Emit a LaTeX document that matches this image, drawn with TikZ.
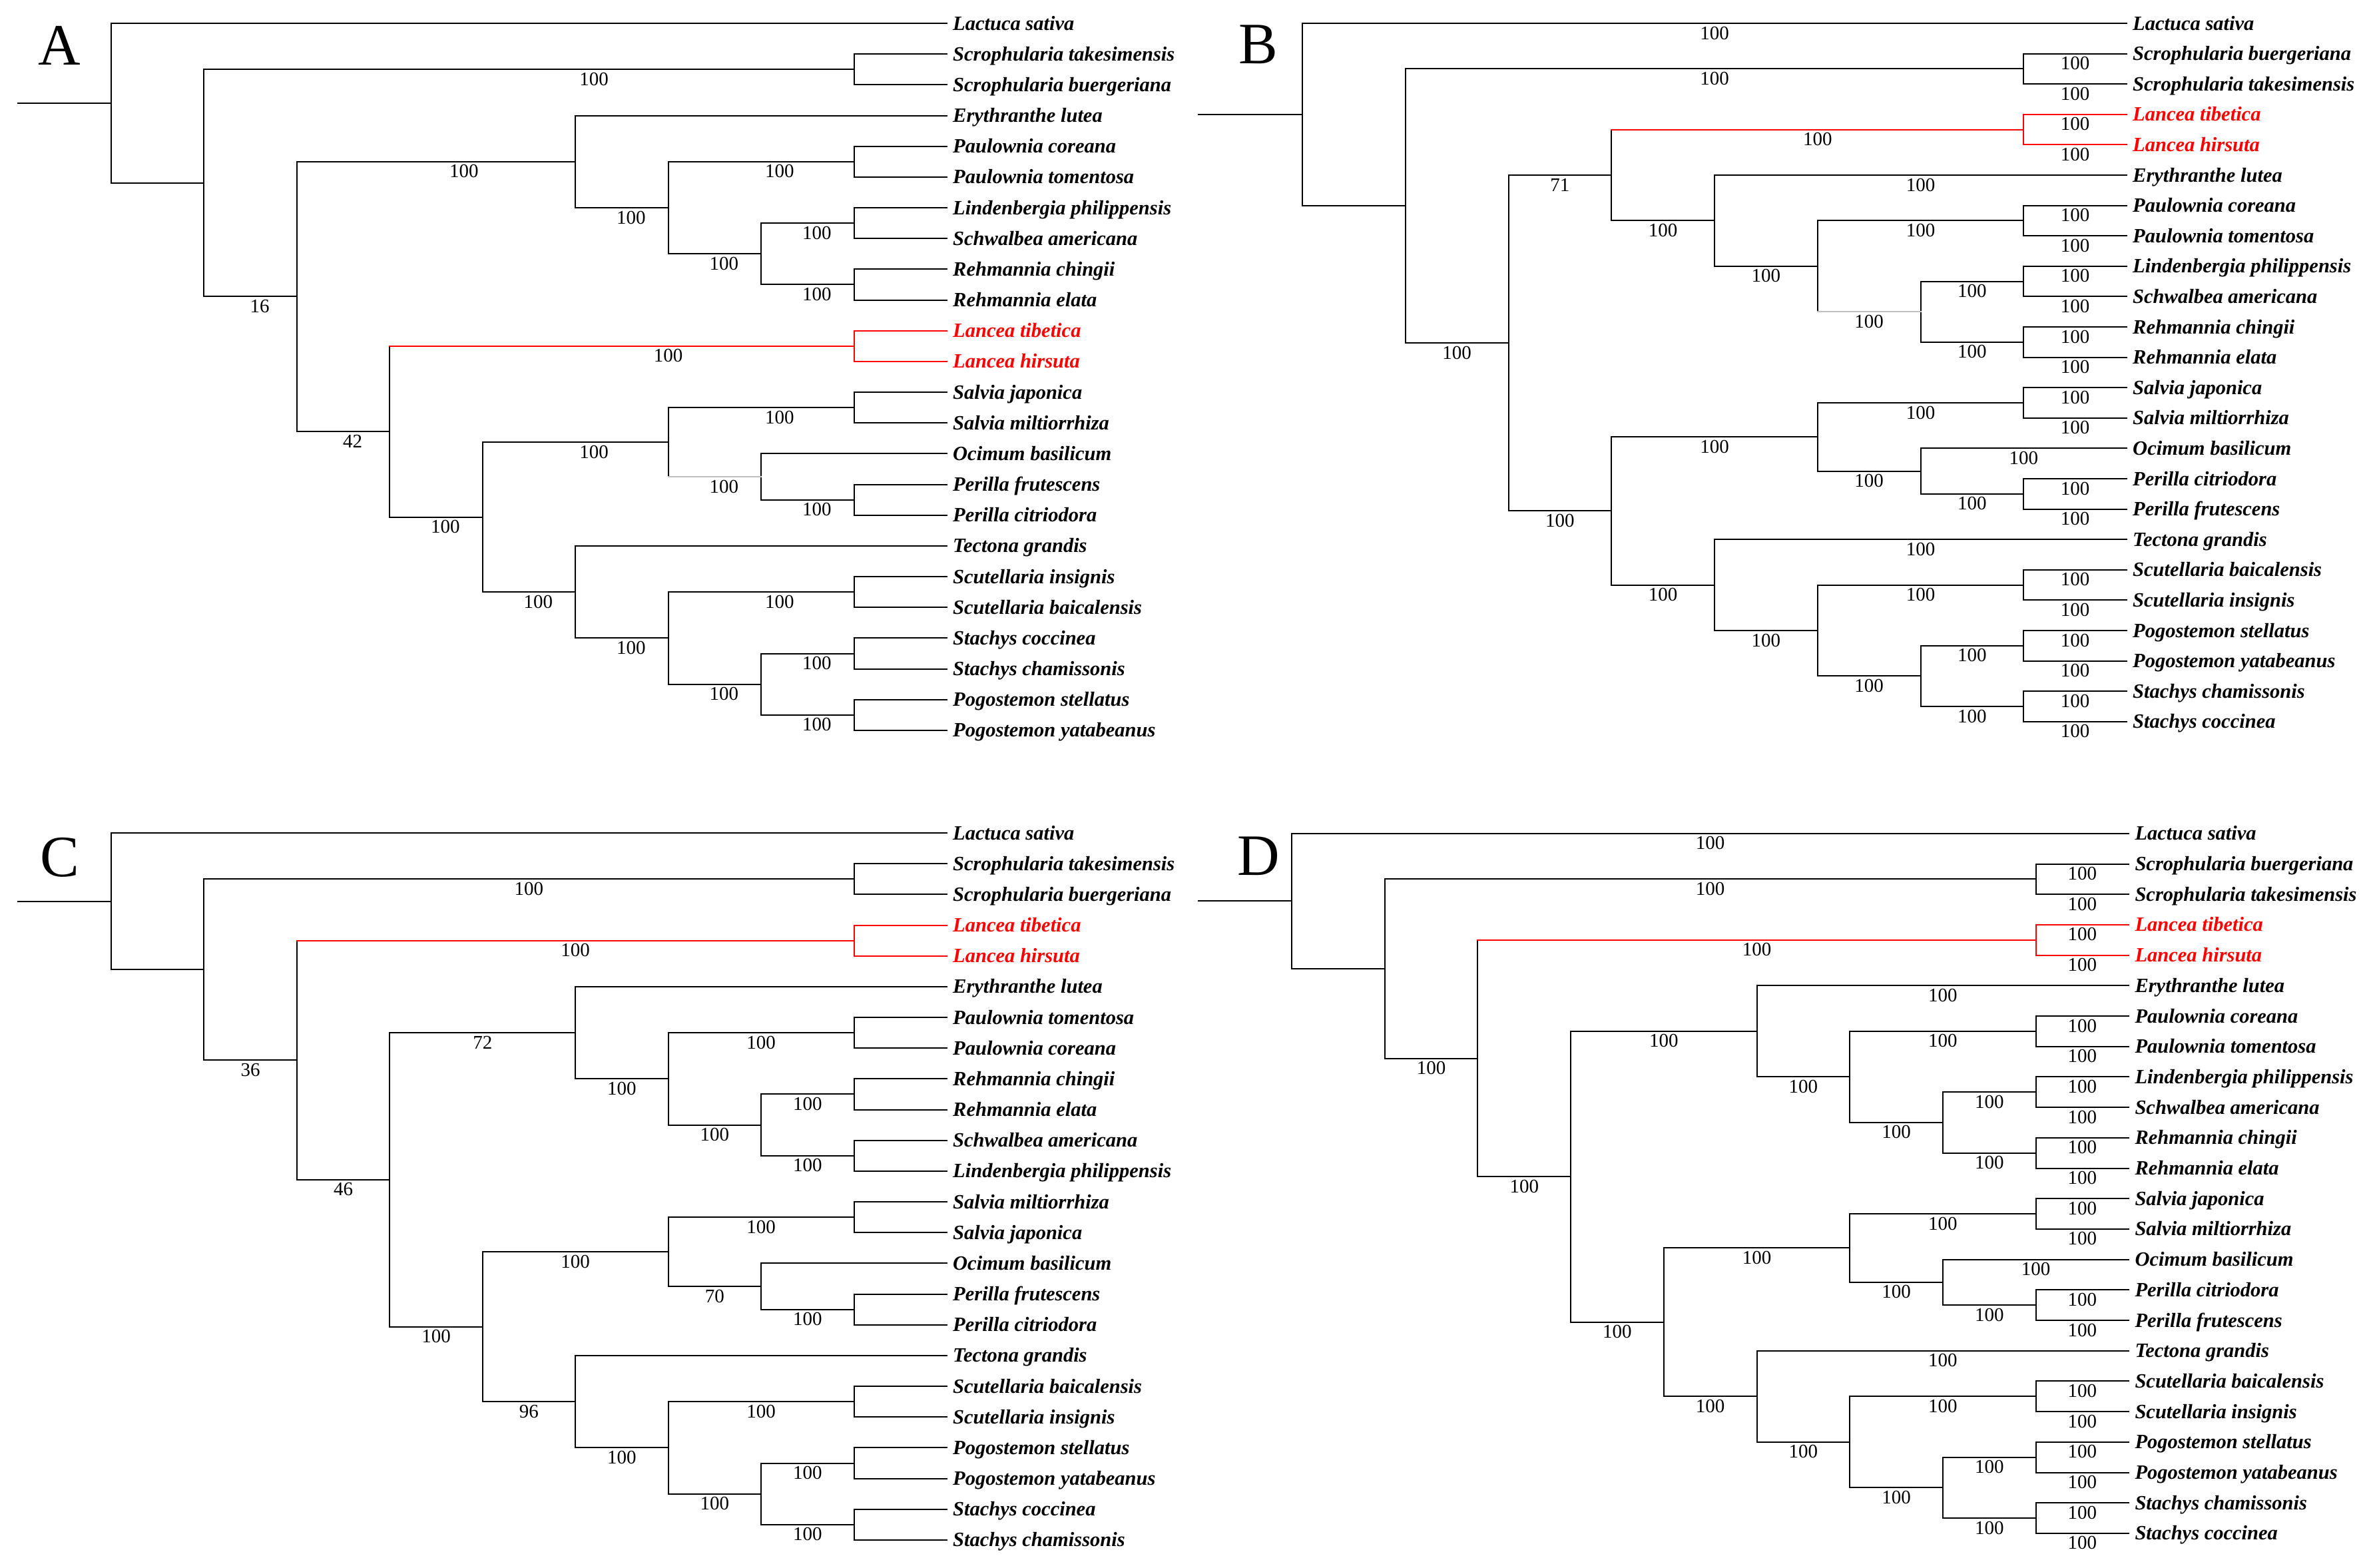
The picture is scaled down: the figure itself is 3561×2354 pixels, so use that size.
\documentclass[tikz,border=0pt]{standalone}
\usepackage{fontspec}
\setmainfont{Liberation Serif}
\usetikzlibrary{calc}
\definecolor{lred}{RGB}{255,0,0}
\newcommand\leaf[3][]{\coordinate (\tn#2) at (\lx,{\ry+#2*\rs}); \node[sp,#1] (\tn#2t) at (\tn#2) {#3};}
\newcommand\inode[7][]{%
 \begin{scope}[vs/.style={},sa/.style={},sb/.style={},#1]
 \path let \p1=(#4), \p2=(#5) in ({(\xo+#3*\xs)*1pt},{0.5*\y1+0.5*\y2}) coordinate (#2);
 \draw[br,vs] (#2 |- #4) -- (#2 |- #5);
 \draw[br,sa] (#2 |- #4) -- (#4) node[bs,pos=\lf]{#6};
 \draw[br,sb] (#2 |- #5) -- (#5) node[bs,pos=\lf]{#7};
 \end{scope}}
\begin{document}
\begin{tikzpicture}[x=1pt,y=-1pt,
 br/.style={line width=2pt,draw=black,line cap=rect},
 rd/.style={draw=lred},
 gy/.style={draw=black!25},
 bs/.style={font=\fontsize{29}{29}\selectfont,anchor=base,yshift=-24pt,inner sep=0pt,text=black},
 sp/.style={font=\fontsize{30.5}{30.5}\selectfont\bfseries\itshape,anchor=base west,inner sep=0pt,xshift=9pt,yshift=-10pt},
 pl/.style={font=\fontsize{88}{88}\selectfont,anchor=base west,inner sep=0pt}]
\useasboundingbox (0,0) rectangle (3561,2354);
\fill[white] (0,0) rectangle (3561,2354);

%%%%%%%%%%%%%%%% Tree A
\def\tn{A}\def\lx{1422}\def\ry{35}\def\rs{46.17}\def\xo{167}\def\xs{139.44}\def\lf{0.6}
\node[pl] (LA) at (57,97) {A};
\leaf{0}{Lactuca sativa}
\leaf{1}{Scrophularia takesimensis}
\leaf{2}{Scrophularia buergeriana}
\leaf{3}{Erythranthe lutea}
\leaf{4}{Paulownia coreana}
\leaf{5}{Paulownia tomentosa}
\leaf{6}{Lindenbergia philippensis}
\leaf{7}{Schwalbea americana}
\leaf{8}{Rehmannia chingii}
\leaf{9}{Rehmannia elata}
\leaf[text=lred]{10}{Lancea tibetica}
\leaf[text=lred]{11}{Lancea hirsuta}
\leaf{12}{Salvia japonica}
\leaf{13}{Salvia miltiorrhiza}
\leaf{14}{Ocimum basilicum}
\leaf{15}{Perilla frutescens}
\leaf{16}{Perilla citriodora}
\leaf{17}{Tectona grandis}
\leaf{18}{Scutellaria insignis}
\leaf{19}{Scutellaria baicalensis}
\leaf{20}{Stachys coccinea}
\leaf{21}{Stachys chamissonis}
\leaf{22}{Pogostemon stellatus}
\leaf{23}{Pogostemon yatabeanus}
\inode{Asc}{8}{A1}{A2}{}{}
\inode{Apa}{8}{A4}{A5}{}{}
\inode{Als}{8}{A6}{A7}{}{}
\inode{Are}{8}{A8}{A9}{}{}
\inode[vs/.style=rd,sa/.style=rd,sb/.style=rd]{Ala}{8}{A10}{A11}{}{}
\inode{Asa}{8}{A12}{A13}{}{}
\inode{Ape}{8}{A15}{A16}{}{}
\inode{Asu}{8}{A18}{A19}{}{}
\inode{Ast}{8}{A20}{A21}{}{}
\inode{Apo}{8}{A22}{A23}{}{}
\inode{An5}{7}{Als}{Are}{100}{100}
\inode{An4}{6}{Apa}{An5}{100}{100}
\inode{An3a}{5}{A3}{An4}{}{100}
\inode{An9}{7}{A14}{Ape}{}{100}
\inode[sb/.style=gy]{An7}{6}{Asa}{An9}{100}{100}
\inode{An11}{7}{Ast}{Apo}{100}{100}
\inode{An10}{6}{Asu}{An11}{100}{100}
\inode{An8}{5}{A17}{An10}{}{100}
\inode{An6}{4}{An7}{An8}{100}{100}
\inode[sa/.style=rd]{An3b}{3}{Ala}{An6}{100}{100}
\inode{An2}{2}{An3a}{An3b}{100}{42}
\inode{An1}{1}{Asc}{An2}{100}{16}
\inode{Ar}{0}{A0}{An1}{}{}
\coordinate (As) at (27,0);
\draw[br] (As |- Ar) -- (Ar);

%%%%%%%%%%%%%%%% Tree B
\def\tn{B}\def\lx{3194}\def\ry{35}\def\rs{45.6}\def\xo{1956}\def\xs{154.75}\def\lf{0.5}
\node[pl] (LB) at (1860,95) {B};
\leaf{0}{Lactuca sativa}
\leaf{1}{Scrophularia buergeriana}
\leaf{2}{Scrophularia takesimensis}
\leaf[text=lred]{3}{Lancea tibetica}
\leaf[text=lred]{4}{Lancea hirsuta}
\leaf{5}{Erythranthe lutea}
\leaf{6}{Paulownia coreana}
\leaf{7}{Paulownia tomentosa}
\leaf{8}{Lindenbergia philippensis}
\leaf{9}{Schwalbea americana}
\leaf{10}{Rehmannia chingii}
\leaf{11}{Rehmannia elata}
\leaf{12}{Salvia japonica}
\leaf{13}{Salvia miltiorrhiza}
\leaf{14}{Ocimum basilicum}
\leaf{15}{Perilla citriodora}
\leaf{16}{Perilla frutescens}
\leaf{17}{Tectona grandis}
\leaf{18}{Scutellaria baicalensis}
\leaf{19}{Scutellaria insignis}
\leaf{20}{Pogostemon stellatus}
\leaf{21}{Pogostemon yatabeanus}
\leaf{22}{Stachys chamissonis}
\leaf{23}{Stachys coccinea}
\inode{Bsc}{7}{B1}{B2}{100}{100}
\inode[vs/.style=rd,sa/.style=rd,sb/.style=rd]{Bla}{7}{B3}{B4}{100}{100}
\inode{Bpa}{7}{B6}{B7}{100}{100}
\inode{Bls}{7}{B8}{B9}{100}{100}
\inode{Bre}{7}{B10}{B11}{100}{100}
\inode{Bsa}{7}{B12}{B13}{100}{100}
\inode{Bpe}{7}{B15}{B16}{100}{100}
\inode{Bsu}{7}{B18}{B19}{100}{100}
\inode{Bpo}{7}{B20}{B21}{100}{100}
\inode{Bst}{7}{B22}{B23}{100}{100}
\inode{Bn6}{6}{Bls}{Bre}{100}{100}
\inode[sb/.style=gy]{Bn5}{5}{Bpa}{Bn6}{100}{100}
\inode{Bn4}{4}{B5}{Bn5}{100}{100}
\inode[sa/.style=rd]{Bn3}{3}{Bla}{Bn4}{100}{100}
\inode{Bn9}{6}{B14}{Bpe}{100}{100}
\inode{Bn7}{5}{Bsa}{Bn9}{100}{100}
\inode{Bn11}{6}{Bpo}{Bst}{100}{100}
\inode{Bn10}{5}{Bsu}{Bn11}{100}{100}
\inode{Bn8}{4}{B17}{Bn10}{100}{100}
\inode{Bn3b}{3}{Bn7}{Bn8}{100}{100}
\inode{Bn2}{2}{Bn3}{Bn3b}{71}{100}
\inode{Bn1}{1}{Bsc}{Bn2}{100}{100}
\inode{Br}{0}{B0}{Bn1}{100}{}
\coordinate (Bs) at (1800,0);
\draw[br] (Bs |- Br) -- (Br);

%%%%%%%%%%%%%%%% Tree C
\def\tn{C}\def\lx{1422}\def\ry{1251}\def\rs{46.17}\def\xo{167}\def\xs{139.44}\def\lf{0.5}
\node[pl] (LC) at (60,1316) {C};
\leaf{0}{Lactuca sativa}
\leaf{1}{Scrophularia takesimensis}
\leaf{2}{Scrophularia buergeriana}
\leaf[text=lred]{3}{Lancea tibetica}
\leaf[text=lred]{4}{Lancea hirsuta}
\leaf{5}{Erythranthe lutea}
\leaf{6}{Paulownia tomentosa}
\leaf{7}{Paulownia coreana}
\leaf{8}{Rehmannia chingii}
\leaf{9}{Rehmannia elata}
\leaf{10}{Schwalbea americana}
\leaf{11}{Lindenbergia philippensis}
\leaf{12}{Salvia miltiorrhiza}
\leaf{13}{Salvia japonica}
\leaf{14}{Ocimum basilicum}
\leaf{15}{Perilla frutescens}
\leaf{16}{Perilla citriodora}
\leaf{17}{Tectona grandis}
\leaf{18}{Scutellaria baicalensis}
\leaf{19}{Scutellaria insignis}
\leaf{20}{Pogostemon stellatus}
\leaf{21}{Pogostemon yatabeanus}
\leaf{22}{Stachys coccinea}
\leaf{23}{Stachys chamissonis}
\inode{Csc}{8}{C1}{C2}{}{}
\inode[vs/.style=rd,sa/.style=rd,sb/.style=rd]{Cla}{8}{C3}{C4}{}{}
\inode{Cpa}{8}{C6}{C7}{}{}
\inode{Cre}{8}{C8}{C9}{}{}
\inode{Csl}{8}{C10}{C11}{}{}
\inode{Csa}{8}{C12}{C13}{}{}
\inode{Cpe}{8}{C15}{C16}{}{}
\inode{Csu}{8}{C18}{C19}{}{}
\inode{Cpo}{8}{C20}{C21}{}{}
\inode{Cst}{8}{C22}{C23}{}{}
\inode{Cn7}{7}{Cre}{Csl}{100}{100}
\inode{Cn6}{6}{Cpa}{Cn7}{100}{100}
\inode{Cn4}{5}{C5}{Cn6}{}{100}
\inode{Cn10}{7}{C14}{Cpe}{}{100}
\inode{Cn8}{6}{Csa}{Cn10}{100}{70}
\inode{Cn12}{7}{Cpo}{Cst}{100}{100}
\inode{Cn11}{6}{Csu}{Cn12}{100}{100}
\inode{Cn9}{5}{C17}{Cn11}{}{100}
\inode{Cn5}{4}{Cn8}{Cn9}{100}{96}
\inode{Cn3}{3}{Cn4}{Cn5}{72}{100}
\inode[sa/.style=rd]{Cn2}{2}{Cla}{Cn3}{100}{46}
\inode{Cn1}{1}{Csc}{Cn2}{100}{36}
\inode{Cr}{0}{C0}{Cn1}{}{}
\coordinate (Cs) at (27,0);
\draw[br] (Cs |- Cr) -- (Cr);

%%%%%%%%%%%%%%%% Tree D
\def\tn{D}\def\lx{3197.3}\def\ry{1251.8}\def\rs{45.7}\def\xo{1940}\def\xs{139.7}\def\lf{0.5}
\node[pl] (LD) at (1858,1314) {D};
\leaf{0}{Lactuca sativa}
\leaf{1}{Scrophularia buergeriana}
\leaf{2}{Scrophularia takesimensis}
\leaf[text=lred]{3}{Lancea tibetica}
\leaf[text=lred]{4}{Lancea hirsuta}
\leaf{5}{Erythranthe lutea}
\leaf{6}{Paulownia coreana}
\leaf{7}{Paulownia tomentosa}
\leaf{8}{Lindenbergia philippensis}
\leaf{9}{Schwalbea americana}
\leaf{10}{Rehmannia chingii}
\leaf{11}{Rehmannia elata}
\leaf{12}{Salvia japonica}
\leaf{13}{Salvia miltiorrhiza}
\leaf{14}{Ocimum basilicum}
\leaf{15}{Perilla citriodora}
\leaf{16}{Perilla frutescens}
\leaf{17}{Tectona grandis}
\leaf{18}{Scutellaria baicalensis}
\leaf{19}{Scutellaria insignis}
\leaf{20}{Pogostemon stellatus}
\leaf{21}{Pogostemon yatabeanus}
\leaf{22}{Stachys chamissonis}
\leaf{23}{Stachys coccinea}
\inode{Dsc}{8}{D1}{D2}{100}{100}
\inode[vs/.style=rd,sa/.style=rd,sb/.style=rd]{Dla}{8}{D3}{D4}{100}{100}
\inode{Dpa}{8}{D6}{D7}{100}{100}
\inode{Dls}{8}{D8}{D9}{100}{100}
\inode{Dre}{8}{D10}{D11}{100}{100}
\inode{Dsa}{8}{D12}{D13}{100}{100}
\inode{Dpe}{8}{D15}{D16}{100}{100}
\inode{Dsu}{8}{D18}{D19}{100}{100}
\inode{Dpo}{8}{D20}{D21}{100}{100}
\inode{Dst}{8}{D22}{D23}{100}{100}
\inode{Dn7}{7}{Dls}{Dre}{100}{100}
\inode{Dn6}{6}{Dpa}{Dn7}{100}{100}
\inode{Dn4}{5}{D5}{Dn6}{100}{100}
\inode{Dn10}{7}{D14}{Dpe}{100}{100}
\inode{Dn8}{6}{Dsa}{Dn10}{100}{100}
\inode{Dn12}{7}{Dpo}{Dst}{100}{100}
\inode{Dn11}{6}{Dsu}{Dn12}{100}{100}
\inode{Dn9}{5}{D17}{Dn11}{100}{100}
\inode{Dn5}{4}{Dn8}{Dn9}{100}{100}
\inode{Dn3}{3}{Dn4}{Dn5}{100}{100}
\inode[sa/.style=rd]{Dn2}{2}{Dla}{Dn3}{100}{100}
\inode{Dn1}{1}{Dsc}{Dn2}{100}{100}
\inode{Dr}{0}{D0}{Dn1}{100}{}
\coordinate (Ds) at (1800,0);
\draw[br] (Ds |- Dr) -- (Dr);
\end{tikzpicture}
\end{document}
